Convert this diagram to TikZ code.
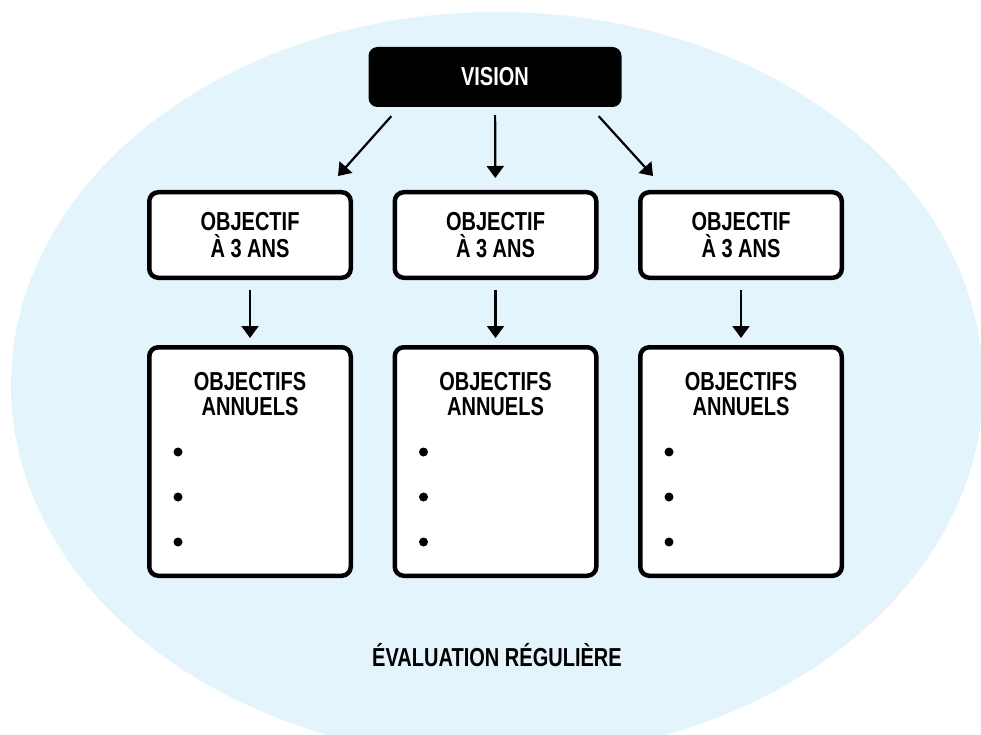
\documentclass[tikz,border=0pt]{standalone}
\usepackage{fontspec}
\newfontfamily\condfont{Liberation Sans}[FakeStretch=0.77]
\usetikzlibrary{arrows.meta}
\definecolor{paleblue}{RGB}{228,244,252}
\begin{document}
\begin{tikzpicture}[x=1pt, y=-1pt,
    every node/.style={font=\condfont\bfseries\fontsize{26}{25}\selectfont, align=center},
    goalbox/.style={draw, line width=4.5pt, rounded corners=9pt, fill=white, minimum width=201.5pt, inner sep=0pt},
    arr/.style={line width=2.2pt, -{Triangle[width=17pt,length=12pt]}}]
        \useasboundingbox (0,0) rectangle (981,735);
        \fill[white] (0,0) rectangle (981,735);
        \clip (0,0) rectangle (981,735);
        \fill[paleblue] (497,385) ellipse [x radius=486, y radius=373];
        \node[fill=black, rounded corners=9pt, minimum width=253pt, minimum height=60pt, text=white] (vision) at (495,77) {VISION};
        \foreach \i/\x in {1/250, 2/495.5, 3/741} {
            \node[goalbox, minimum height=85.5pt] (obj\i) at (\x,235) {OBJECTIF\\[2.5pt]À 3 ANS};
            \node[goalbox, minimum height=228.5pt] (annual\i) at (\x,461.5) {};
            \node (annualtitle\i) at (\x,394) {OBJECTIFS\\ANNUELS};
            \foreach \y in {452,497,542} \fill ({\x-72},\y) circle (4.5);
            \draw[arr, shorten <=10pt, shorten >=7pt] (obj\i) -- (annual\i);
        }
        \draw[arr, shorten <=8pt, shorten >=12pt] (vision) -- (obj2);
        \draw[arr] ([xshift=23pt,yshift=-9pt]vision.south west) -- ([xshift=-15pt,yshift=14pt]obj1.north east);
        \draw[arr] ([xshift=-23pt,yshift=-9pt]vision.south east) -- ([xshift=15pt,yshift=14pt]obj3.north west);
        \node (review) at (497,655) {ÉVALUATION RÉGULIÈRE};
    \end{tikzpicture}
\end{document}
